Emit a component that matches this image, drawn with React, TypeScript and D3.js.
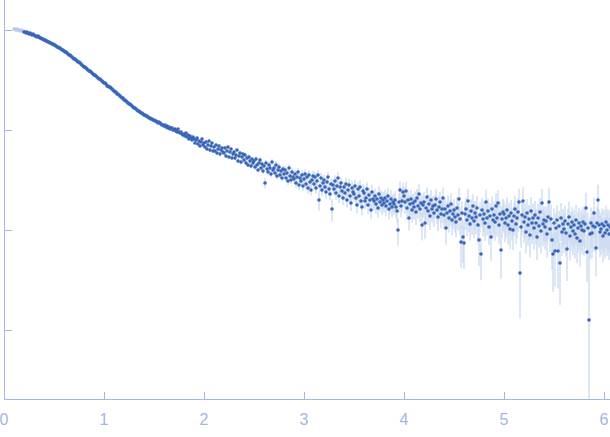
import React from 'react';
import * as d3 from 'd3';

// Scattering vector grid (uniform sampling of the measured curve)
const Q_START = 0.1;
const Q_STEP = 0.01;
// first points are excluded from the analysis (drawn light)
const EXCLUDED_COUNT = 10;

// log10 of the intensity (one row = 10 points)
const logIntensity: number[] = [
  0.01, 0.01, 0.00, 0.01, 0.00, 0.00, -0.01, 0.00, -0.01, -0.01,
  -0.02, -0.02, -0.03, -0.02, -0.03, -0.04, -0.03, -0.04, -0.05, -0.04,
  -0.05, -0.06, -0.06, -0.07, -0.06, -0.07, -0.08, -0.08, -0.09, -0.09,
  -0.10, -0.10, -0.11, -0.11, -0.12, -0.12, -0.13, -0.13, -0.14, -0.14,
  -0.15, -0.15, -0.16, -0.17, -0.17, -0.18, -0.18, -0.19, -0.20, -0.20,
  -0.21, -0.22, -0.22, -0.23, -0.24, -0.25, -0.25, -0.26, -0.27, -0.28,
  -0.29, -0.29, -0.30, -0.31, -0.32, -0.32, -0.33, -0.34, -0.35, -0.36,
  -0.37, -0.37, -0.38, -0.39, -0.40, -0.41, -0.41, -0.42, -0.43, -0.44,
  -0.45, -0.45, -0.46, -0.47, -0.48, -0.49, -0.49, -0.50, -0.51, -0.52,
  -0.53, -0.53, -0.54, -0.56, -0.56, -0.57, -0.57, -0.58, -0.59, -0.60,
  -0.61, -0.62, -0.62, -0.64, -0.64, -0.65, -0.66, -0.67, -0.68, -0.68,
  -0.70, -0.70, -0.71, -0.72, -0.73, -0.74, -0.74, -0.75, -0.76, -0.77,
  -0.78, -0.78, -0.79, -0.80, -0.81, -0.81, -0.82, -0.83, -0.83, -0.84,
  -0.85, -0.85, -0.86, -0.86, -0.87, -0.88, -0.88, -0.89, -0.89, -0.90,
  -0.90, -0.91, -0.91, -0.92, -0.93, -0.92, -0.93, -0.94, -0.95, -0.95,
  -0.96, -0.95, -0.97, -0.96, -0.98, -0.97, -0.99, -0.98, -0.98, -1.00,
  -1.00, -0.99, -1.01, -1.02, -0.99, -1.02, -1.03, -1.02, -1.04, -1.05,
  -1.04, -1.06, -1.03, -1.07, -1.05, -1.09, -1.06, -1.08, -1.10, -1.07,
  -1.09, -1.13, -1.10, -1.08, -1.14, -1.11, -1.16, -1.12, -1.09, -1.15,
  -1.13, -1.17, -1.12, -1.19, -1.15, -1.11, -1.20, -1.16, -1.13, -1.21,
  -1.17, -1.21, -1.15, -1.23, -1.19, -1.16, -1.24, -1.20, -1.18, -1.22,
  -1.23, -1.18, -1.26, -1.21, -1.17, -1.27, -1.22, -1.19, -1.28, -1.24,
  -1.22, -1.28, -1.25, -1.20, -1.31, -1.26, -1.23, -1.32, -1.27, -1.24,
  -1.30, -1.25, -1.33, -1.28, -1.35, -1.27, -1.31, -1.36, -1.29, -1.33,
  -1.31, -1.37, -1.29, -1.35, -1.40, -1.33, -1.30, -1.38, -1.34, -1.41,
  -1.36, -1.53, -1.33, -1.39, -1.42, -1.35, -1.38, -1.44, -1.32, -1.40,
  -1.38, -1.43, -1.35, -1.46, -1.40, -1.37, -1.45, -1.41, -1.48, -1.39,
  -1.44, -1.40, -1.48, -1.43, -1.51, -1.38, -1.46, -1.50, -1.42, -1.47,
  -1.49, -1.44, -1.53, -1.47, -1.42, -1.55, -1.48, -1.51, -1.45, -1.56,
  -1.49, -1.44, -1.54, -1.47, -1.58, -1.45, -1.52, -1.60, -1.50, -1.46,
  -1.54, -1.47, -1.58, -1.51, -1.45, -1.70, -1.56, -1.48, -1.60, -1.53,
  -1.50, -1.57, -1.62, -1.52, -1.47, -1.59, -1.64, -1.54, -1.79, -1.55,
  -1.59, -1.51, -1.63, -1.56, -1.48, -1.66, -1.57, -1.53, -1.61, -1.68,
  -1.57, -1.63, -1.54, -1.70, -1.60, -1.55, -1.66, -1.73, -1.58, -1.62,
  -1.64, -1.56, -1.68, -1.75, -1.59, -1.66, -1.57, -1.71, -1.77, -1.61,
  -1.63, -1.71, -1.68, -1.59, -1.75, -1.65, -1.70, -1.80, -1.62, -1.69,
  -1.71, -1.66, -1.74, -1.69, -1.78, -1.64, -1.72, -1.68, -1.75, -1.70,
  -1.73, -1.68, -1.76, -1.71, -1.66, -1.79, -1.74, -1.69, -1.77, -1.72,
  -1.74, -1.70, -1.77, -1.81, -2.00, -1.72, -1.60, -1.76, -1.71, -1.62,
  -1.66, -1.72, -1.61, -1.78, -1.70, -1.88, -1.74, -1.69, -1.80, -1.73,
  -1.77, -1.71, -1.82, -1.68, -1.76, -1.64, -1.79, -1.73, -1.95, -1.75,
  -1.72, -1.93, -1.78, -1.67, -1.81, -1.74, -1.86, -1.70, -1.79, -1.76,
  -1.83, -1.75, -1.69, -1.80, -1.87, -1.77, -1.72, -1.84, -1.79, -1.68,
  -1.85, -1.79, -1.98, -1.83, -1.76, -1.88, -1.81, -1.74, -1.90, -1.84,
  -1.80, -1.87, -1.92, -1.78, -1.85, -1.69, -1.89, -2.12, -1.83, -2.07,
  -2.13, -1.84, -1.79, -1.90, -1.71, -1.86, -1.94, -1.81, -1.88, -1.76,
  -1.91, -1.83, -1.87, -1.78, -1.95, -2.10, -1.85, -2.24, -1.80, -1.89,
  -1.84, -1.93, -1.72, -1.88, -1.81, -1.97, -1.86, -2.07, -1.79, -1.90,
  -1.85, -1.92, -1.76, -1.88, -1.73, -1.95, -1.84, -2.20, -1.89, -1.82,
  -1.84, -1.93, -1.88, -1.80, -1.95, -1.86, -1.99, -1.83, -1.91, -2.00,
  -1.86, -1.79, -1.94, -1.88, -1.82, -1.72, -2.43, -1.97, -1.85, -1.71,
  -1.92, -1.87, -2.02, -1.83, -1.95, -1.89, -2.05, -1.81, -1.93, -1.88,
  -1.98, -1.85, -1.93, -2.07, -1.88, -1.96, -1.82, -2.01, -1.73, -1.94,
  -1.90, -1.97, -1.91, -2.04, -1.87, -1.72, -1.99, -1.89, -2.10, -2.24,
  -1.93, -2.21, -1.98, -1.90, -2.21, -1.96, -2.33, -1.88, -2.02, -1.94,
  -1.99, -1.91, -2.03, -2.19, -1.94, -1.87, -2.06, -1.97, -1.92, -2.01,
  -1.95, -2.04, -1.90, -2.08, -1.98, -1.93, -2.11, -1.96, -2.00, -1.92,
  -2.01, -1.94, -1.78, -2.22, -1.98, -2.90, -2.04, -1.93, -2.03, -1.96,
  -1.83, -1.97, -2.18, -1.93, -1.70, -1.95, -2.02, -1.99, -1.94, -2.06,
  -1.96, -2.03, -1.92, -2.00, -1.95, -2.04, -1.97,
];

// relative error of each point, in percent
const relErrorPct: number[] = [
  1, 1, 1, 1, 1, 1, 1, 1, 1, 1,
  1, 1, 1, 1, 1, 1, 1, 1, 1, 1,
  1, 1, 1, 1, 1, 1, 1, 1, 1, 1,
  1, 1, 1, 1, 1, 1, 1, 1, 1, 1,
  1, 1, 1, 1, 1, 1, 1, 1, 1, 1,
  1, 1, 1, 1, 1, 1, 1, 1, 1, 1,
  1, 1, 1, 1, 1, 1, 1, 1, 1, 1,
  1, 1, 1, 1, 1, 1, 1, 1, 1, 1,
  1, 1, 1, 1, 1, 1, 1, 1, 1, 1,
  1, 1, 1, 1, 1, 1, 1, 1, 1, 1,
  1, 1, 1, 1, 1, 1, 1, 1, 1, 1,
  1, 1, 2, 1, 1, 1, 2, 1, 1, 1,
  1, 2, 1, 1, 2, 1, 1, 2, 1, 2,
  2, 1, 2, 2, 1, 2, 2, 1, 2, 2,
  2, 2, 2, 2, 2, 2, 2, 2, 2, 2,
  2, 2, 3, 2, 2, 3, 2, 2, 3, 2,
  3, 2, 3, 3, 2, 3, 3, 2, 3, 3,
  3, 3, 3, 3, 3, 3, 3, 3, 3, 3,
  3, 3, 4, 3, 3, 4, 3, 3, 4, 3,
  4, 3, 4, 4, 3, 4, 4, 4, 3, 4,
  4, 4, 5, 4, 4, 5, 4, 4, 5, 4,
  5, 4, 5, 5, 4, 5, 5, 5, 4, 5,
  5, 5, 6, 5, 5, 6, 5, 6, 5, 5,
  6, 5, 6, 6, 5, 6, 6, 6, 5, 6,
  6, 7, 6, 7, 6, 7, 7, 6, 7, 7,
  7, 12, 7, 8, 7, 8, 7, 8, 7, 8,
  8, 8, 9, 8, 8, 9, 8, 9, 8, 9,
  9, 9, 9, 10, 9, 9, 10, 9, 10, 9,
  10, 10, 11, 10, 10, 11, 10, 11, 10, 11,
  11, 11, 12, 11, 12, 11, 12, 12, 11, 12,
  12, 12, 13, 12, 12, 22, 13, 12, 13, 13,
  13, 13, 14, 13, 13, 14, 14, 13, 25, 14,
  14, 14, 15, 14, 14, 15, 15, 14, 15, 15,
  15, 15, 16, 16, 15, 16, 16, 17, 16, 16,
  16, 17, 17, 17, 16, 17, 17, 18, 18, 17,
  18, 18, 18, 17, 19, 18, 18, 19, 18, 19,
  19, 19, 20, 19, 20, 19, 20, 19, 20, 20,
  20, 21, 21, 20, 21, 21, 20, 22, 21, 21,
  22, 22, 22, 23, 30, 22, 22, 23, 22, 23,
  23, 24, 23, 24, 24, 25, 24, 24, 25, 24,
  25, 25, 26, 24, 25, 25, 26, 25, 30, 25,
  26, 30, 26, 25, 27, 26, 27, 26, 27, 26,
  27, 27, 26, 28, 28, 27, 27, 28, 28, 27,
  28, 28, 32, 29, 28, 29, 29, 28, 30, 29,
  29, 30, 30, 29, 30, 29, 30, 45, 30, 45,
  45, 31, 30, 31, 31, 31, 32, 31, 32, 31,
  32, 32, 33, 32, 33, 45, 33, 45, 32, 33,
  33, 34, 33, 34, 33, 34, 34, 42, 33, 34,
  34, 35, 34, 35, 35, 35, 35, 48, 35, 35,
  35, 36, 36, 35, 36, 36, 37, 36, 36, 37,
  37, 36, 37, 37, 37, 36, 65, 38, 37, 37,
  38, 37, 39, 38, 38, 38, 40, 38, 38, 39,
  39, 38, 39, 41, 39, 39, 38, 40, 38, 40,
  39, 40, 40, 42, 40, 39, 41, 40, 50, 58,
  40, 56, 41, 41, 58, 41, 62, 41, 42, 41,
  42, 41, 42, 52, 42, 42, 43, 42, 42, 43,
  42, 43, 42, 44, 43, 42, 44, 43, 43, 42,
  43, 43, 42, 50, 43, 370, 44, 43, 44, 43,
  43, 44, 48, 44, 42, 44, 44, 44, 44, 45,
  45, 44, 45, 45, 44, 45, 45,
];

const xTicks = [0, 1, 2, 3, 4, 5, 6];
const yTicks = [1, 0.1, 0.01, 0.001];

const AXIS_COLOR = '#a3b6e1';
const POINT_COLOR = '#3a66b8';
const EXCLUDED_COLOR = '#b9cae9';
const ERROR_COLOR = '#c6d5ef';

export default function App() {
  const W = 610;
  const H = 437;
  const x = d3.scaleLinear().domain([0, 6.06]).range([4, 610]);
  const y = d3.scaleLog().domain([Math.pow(10, -3.69), Math.pow(10, 0.3)]).range([399, 0]);
  const [yBottom, yTop] = y.range();

  const data = logIntensity.map((v, i) => {
    const q = Q_START + i * Q_STEP;
    const I = Math.pow(10, v);
    const s = (relErrorPct[i] ?? 1) / 100;
    return { q, I, lo: I * (1 - s), hi: I * (1 + s), excluded: i < EXCLUDED_COUNT };
  });

  const yPos = (val: number) => (val <= 0 ? yBottom : Math.max(yTop, Math.min(yBottom, y(val))));

  return (
    <svg
      width={W}
      height={H}
      style={{ position: 'absolute', left: 0, top: 0, background: '#fff' }}
    >
      <g>
        {data.map((d, i) => (
          <line
            key={'e' + i}
            x1={x(d.q)}
            x2={x(d.q)}
            y1={yPos(d.lo)}
            y2={yPos(d.hi)}
            stroke={ERROR_COLOR}
            strokeWidth={1.2}
          />
        ))}
      </g>
      <g>
        {data.map((d, i) => (
          <circle
            key={'p' + i}
            cx={x(d.q)}
            cy={y(d.I)}
            r={1.8}
            fill={d.excluded ? EXCLUDED_COLOR : POINT_COLOR}
          />
        ))}
      </g>
      {/* y axis */}
      <line x1={4.5} x2={4.5} y1={0} y2={399} stroke={AXIS_COLOR} strokeWidth={1} />
      {yTicks.map((t) => (
        <line
          key={'yt' + t}
          x1={4}
          x2={12}
          y1={Math.round(y(t)) + 0.5}
          y2={Math.round(y(t)) + 0.5}
          stroke={AXIS_COLOR}
          strokeWidth={1}
        />
      ))}
      {/* x axis */}
      <line x1={4} x2={610} y1={399.5} y2={399.5} stroke={AXIS_COLOR} strokeWidth={1} />
      {xTicks.map((t) => (
        <g key={'xt' + t}>
          <line
            x1={Math.round(x(t)) + 0.5}
            x2={Math.round(x(t)) + 0.5}
            y1={392}
            y2={399}
            stroke={AXIS_COLOR}
            strokeWidth={1}
          />
          <text
            x={x(t)}
            y={425}
            textAnchor="middle"
            fill={AXIS_COLOR}
            fontFamily="'Liberation Sans', Arial, sans-serif"
            fontSize={16}
          >
            {t}
          </text>
        </g>
      ))}
    </svg>
  );
}
